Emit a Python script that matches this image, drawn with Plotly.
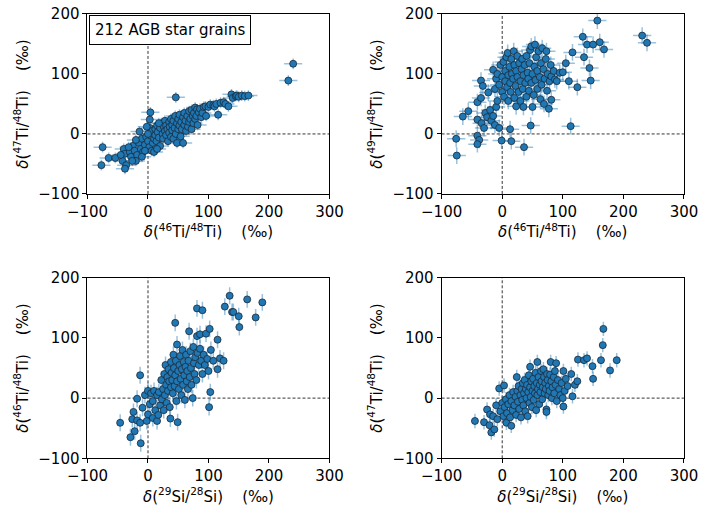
import plotly.graph_objects as go

# Panel 1: d46Ti/48Ti (x) vs d47Ti/48Ti (y)
p1_x = [-77,-75,-65,-54,-40,-38,-42,-36,-38,-30,-28,-25,-22,-18,-20,-15,-12,-10,-8,-5,-14,-3,0,2,3,4,3,5,7,8,10,12,12,14,15,16,18,20,20,22,24,25,26,28,28,30,30,32,33,35,35,36,38,38,40,40,42,42,44,45,46,46,48,48,50,50,52,52,54,55,56,58,58,60,60,62,63,65,66,68,68,70,72,72,74,75,76,78,78,80,81,82,84,86,88,90,92,95,96,100,103,108,110,113,116,120,125,128,133,138,140,145,147,150,155,160,166,232,240,-45,-32,-26,-20,-10,-5,0,-2,6,10,15,18]
p1_y = [-52,-22,-40,-40,-25,-33,-45,-52,-58,-30,-38,-20,-28,-35,-45,-15,-25,-8,-30,-18,4,-5,-12,-22,10,36,24,-3,5,-15,-8,8,-2,-12,14,3,-6,10,-20,18,0,-8,12,5,22,-2,14,8,-12,20,2,12,-5,25,15,6,-8,22,10,30,61,0,18,-15,8,25,14,32,-4,20,8,28,-15,15,35,22,5,30,12,38,20,25,8,40,30,18,35,44,25,30,41,15,36,42,28,35,45,46,30,45,49,48,46,50,32,52,53,50,46,66,60,63,64,62,64,63,64,89,117,-35,-22,-45,-10,-38,-28,0,12,-28,-30,-25,18]

# Panel 2: d46Ti/48Ti (x) vs d49Ti/48Ti (y)
p2_x = [-76,-75,-65,-56,-41,-38,-41,-41,-34,-30,-41,-35,-35,-32,-23,-15,-28,-25,-20,-18,-15,-12,-10,-8,-5,-1,13,15,36,47,113,-12,-10,-8,-5,-3,0,0,2,3,5,5,7,8,9,10,10,12,13,14,15,16,18,19,20,20,22,23,23,25,25,27,28,30,30,32,33,34,35,35,37,38,40,40,42,43,44,45,46,48,48,50,50,52,53,54,55,56,58,58,60,62,63,64,65,66,68,69,70,72,73,74,75,77,78,80,81,81,85,87,90,95,100,105,110,116,124,133,135,140,144,146,150,157,161,168,231,239]
p2_y = [-8,-36,29,38,-3,-10,-17,24,18,10,53,60,89,80,69,107,35,28,40,22,30,15,45,55,10,-11,8,-12,-22,14,13,75,92,100,82,115,95,70,120,62,88,105,128,78,135,98,55,112,85,70,125,100,92,138,60,115,80,46,105,95,130,70,118,88,55,108,125,75,45,98,115,85,62,130,102,92,72,118,140,146,85,45,100,65,112,149,90,128,75,105,138,95,58,118,82,143,108,50,92,125,138,72,100,42,88,115,57,96,105,91,88,102,103,118,88,136,78,162,128,149,110,89,149,189,153,141,164,152]

# Panel 3: d29Si/28Si (x) vs d46Ti/48Ti (y)
p3_x = [-46,-29,-22,-12,-24,-26,-18,-13,-9,-18,-13,-2,0,8,15,-5,0,3,5,8,10,12,15,17,18,20,22,23,25,26,27,28,29,30,31,32,33,34,35,36,37,38,38,39,40,41,42,43,44,45,45,46,47,48,48,49,50,51,52,53,54,55,56,57,58,59,60,61,62,63,64,65,66,67,68,69,70,71,72,74,75,76,77,78,80,81,81,82,84,86,86,88,90,90,92,94,96,98,100,101,102,103,104,108,115,115,119,125,127,135,139,141,150,151,164,178,189]
p3_y = [-41,-65,-55,-75,-23,-35,-37,-41,-16,-1,38,-38,-27,-33,-38,5,12,-10,8,-5,12,-20,5,-28,10,-12,30,-2,15,-20,40,5,55,22,-8,35,12,48,28,-15,-34,18,60,42,30,8,72,50,20,125,38,62,-5,89,28,-40,45,15,55,70,32,5,48,80,22,60,38,-3,52,72,28,45,15,62,111,35,78,50,22,0,85,58,40,68,30,103,149,75,55,82,106,62,146,40,72,55,107,65,45,-15,115,10,80,62,97,48,66,62,152,170,143,143,136,118,164,134,159]

# Panel 4: d29Si/28Si (x) vs d47Ti/48Ti (y)
p4_x = [-45,-30,-25,-21,-20,-18,-13,-15,-10,-8,-5,-3,0,2,3,4,6,7,8,10,12,13,15,15,17,18,20,22,23,24,25,26,27,28,30,31,32,33,34,35,36,37,38,39,40,41,42,43,44,45,46,46,47,48,49,50,51,52,53,54,55,56,57,58,58,59,60,61,62,63,64,65,66,67,68,69,70,71,72,73,73,74,75,76,77,78,79,80,81,82,83,85,86,87,88,89,90,92,94,96,98,100,101,101,103,105,108,114,116,120,124,125,135,140,149,150,163,166,167,178,189]
p4_y = [-38,-40,-19,-45,-27,-57,-52,-30,-12,-35,16,-22,-8,-30,21,-15,-2,-41,-25,-10,5,-32,-46,-5,-20,10,-12,2,-28,35,12,-6,20,-18,5,-32,15,-3,25,-12,8,30,-22,15,0,22,-30,10,38,-8,52,18,2,28,-15,12,32,-3,20,8,42,-20,25,60,5,15,35,-10,22,10,45,28,-2,18,48,35,8,25,15,-19,-23,40,30,5,20,12,39,60,28,0,18,35,8,45,22,58,-5,30,15,5,25,0,45,-14,12,32,20,40,3,22,28,64,63,66,53,32,63,88,115,46,63]

# 1-sigma uncertainties (permil), typical per ratio
err_46_x = 15
err_47_y = 9
err_49_y = 14
err_29_x = 5
err_46_y = 14
err_47_y_si = 12

label_46 = "<i>δ</i>(<sup>46</sup>Ti/<sup>48</sup>Ti)    (‰)"
label_47 = "<i>δ</i>(<sup>47</sup>Ti/<sup>48</sup>Ti)    (‰)"
label_49 = "<i>δ</i>(<sup>49</sup>Ti/<sup>48</sup>Ti)    (‰)"
label_29 = "<i>δ</i>(<sup>29</sup>Si/<sup>28</sup>Si)    (‰)"
legend_text = "212 AGB star grains"

BLUE = "#1f77b4"
ERRC = "rgba(31,119,180,0.45)"

panels = [
    (p1_x, p1_y, err_46_x, err_47_y, "x", "y", label_46, label_47),
    (p2_x, p2_y, err_46_x, err_49_y, "x2", "y2", label_46, label_49),
    (p3_x, p3_y, err_29_x, err_46_y, "x3", "y3", label_29, label_46),
    (p4_x, p4_y, err_29_x, err_47_y_si, "x4", "y4", label_29, label_47),
]

fig = go.Figure()
for xs, ys, ex, ey, xa, ya, _, _ in panels:
    fig.add_trace(go.Scatter(
        x=xs, y=ys, mode="markers", xaxis=xa, yaxis=ya, showlegend=False,
        marker=dict(size=7, color=BLUE, line=dict(color="#1b2a3a", width=0.8)),
        error_x=dict(type="constant", value=ex, color=ERRC, thickness=1.5, width=0),
        error_y=dict(type="constant", value=ey, color=ERRC, thickness=1.5, width=0),
    ))

xdoms = [[0.1248, 0.4700], [0.6300, 0.9757], [0.1248, 0.4700], [0.6300, 0.9757]]
ydoms = [[0.6190, 0.9725], [0.6190, 0.9725], [0.0996, 0.4544], [0.0996, 0.4544]]

font = dict(family="DejaVu Sans", size=15, color="black")
layout = dict(
    width=701, height=509, margin=dict(l=0, r=0, t=0, b=0),
    paper_bgcolor="white", plot_bgcolor="white", font=font,
)
shapes = []
for i, (xs, ys, ex, ey, xa, ya, xl, yl) in enumerate(panels):
    suf = "" if i == 0 else str(i + 1)
    layout["xaxis" + suf] = dict(
        domain=xdoms[i], range=[-100, 300], anchor="y" + suf, automargin=False,
        tickvals=[-100, 0, 100, 200, 300], ticktext=["−100", "0", "100", "200", "300"],
        showline=True, mirror=True, linecolor="black", linewidth=1,
        ticks="outside", ticklen=4, tickcolor="black", showgrid=False, zeroline=False,
        title=dict(text=xl, standoff=4, font=font), tickfont=font,
    )
    layout["yaxis" + suf] = dict(
        domain=ydoms[i], range=[-100, 200], anchor="x" + suf, automargin=False,
        tickvals=[-100, 0, 100, 200], ticktext=["−100", "0", "100", "200"],
        showline=True, mirror=True, linecolor="black", linewidth=1,
        ticks="outside", ticklen=4, tickcolor="black", showgrid=False, zeroline=False,
        title=dict(text=yl, standoff=6, font=font), tickfont=font,
    )
    shapes.append(dict(type="line", xref=xa, yref=ya + " domain", x0=0, x1=0, y0=0, y1=1,
                       line=dict(color="black", width=0.8, dash="3px,2px"), layer="below"))
    shapes.append(dict(type="line", xref=xa + " domain", yref=ya, x0=0, x1=1, y0=0, y1=0,
                       line=dict(color="black", width=0.8, dash="3px,2px"), layer="below"))

layout["shapes"] = shapes
layout["annotations"] = [dict(
    text=legend_text, xref="x domain", yref="y domain", x=0.006, y=0.994,
    xanchor="left", yanchor="top", showarrow=False,
    font=dict(family="DejaVu Sans", size=15, color="black"),
    bordercolor="black", borderwidth=1, borderpad=5, bgcolor="white",
)]
fig.update_layout(**layout)
fig.write_html("out.html")
